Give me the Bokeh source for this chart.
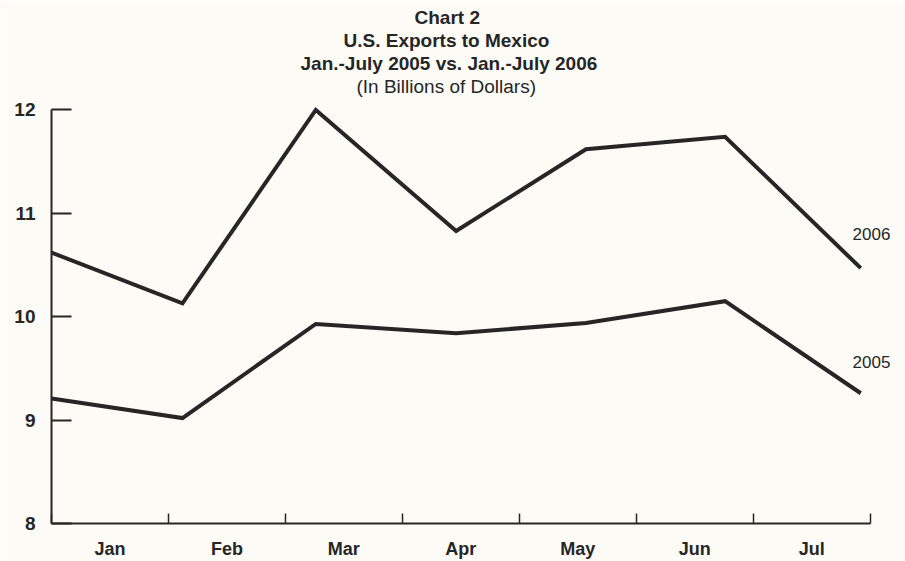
from bokeh.plotting import figure
from bokeh.models import Range1d, FixedTicker, Label, Title
from bokeh.embed import file_html
from bokeh.resources import INLINE

months = ["Jan", "Feb", "Mar", "Apr", "May", "Jun", "Jul"]
# where each month's point sits along the axis, in month-bin units
month_pos = [0.0, 1.12, 2.26, 3.46, 4.57, 5.76, 6.92]
exports_2006 = [10.62, 10.13, 12.0, 10.83, 11.62, 11.74, 10.47]
exports_2005 = [9.21, 9.02, 9.93, 9.84, 9.94, 10.15, 9.26]
y_ticks = [8, 9, 10, 11, 12]
series_names = ["2006", "2005"]
title_lines = ["Chart 2", "U.S. Exports to Mexico",
               "Jan.-July 2005 vs. Jan.-July 2006", "(In Billions of Dollars)"]

BG = "#fcfbf6"
INK = "#262626"
NARROW = "'Liberation Sans Narrow', 'Arial Narrow', 'Liberation Sans', sans-serif"
REG = "'Liberation Sans', Arial, sans-serif"

n = len(months)

p = figure(width=905, height=561, output_backend="svg", toolbar_location=None, title=None,
           x_range=Range1d(0, 7.2), y_range=Range1d(8, 12.13),
           min_border_left=51, min_border_right=12, min_border_top=96, min_border_bottom=38)
p.background_fill_color = BG
p.border_fill_color = BG
p.outline_line_color = None
p.grid.visible = False

p.line(month_pos, exports_2006, line_width=4, line_color=INK, line_join="miter")
p.line(month_pos, exports_2005, line_width=4, line_color=INK, line_join="miter")

# y axis
ya = p.yaxis[0]
ya.ticker = FixedTicker(ticks=y_ticks)
ya.bounds = (8, 12)
ya.major_tick_in = 20
ya.major_tick_out = 0
ya.minor_tick_line_color = None
ya.axis_line_width = 2
ya.axis_line_color = INK
ya.major_tick_line_width = 2
ya.major_tick_line_color = INK
ya.major_label_text_font = REG
ya.major_label_text_font_style = "bold"
ya.major_label_text_font_size = "19px"
ya.major_label_text_color = INK
ya.major_label_standoff = 16

# x axis: ticks at bin edges (minor), labels at bin centres (major)
xa = p.xaxis[0]
centers = [i + 0.5 for i in range(n)]
xa.ticker = FixedTicker(ticks=centers, minor_ticks=list(range(n + 1)))
xa.major_label_overrides = {c: m for c, m in zip(centers, months)}
xa.bounds = (0, 7)
xa.major_tick_line_color = None
xa.minor_tick_in = 10
xa.minor_tick_out = 0
xa.minor_tick_line_width = 1.5
xa.minor_tick_line_color = INK
xa.axis_line_width = 2
xa.axis_line_color = INK
xa.major_label_text_font = REG
xa.major_label_text_font_style = "bold"
xa.major_label_text_font_size = "18px"
xa.major_label_text_color = INK
xa.major_label_standoff = 9

# series labels
for name, vals, yoff in zip(series_names, [exports_2006, exports_2005], [0.33, 0.30]):
    p.add_layout(Label(x=6.85, y=vals[-1] + yoff, text=name, text_font=REG,
                       text_font_size="17px", text_color=INK, text_baseline="middle",
                       text_align="left"))

# title lines (first added sits closest to the plot); left offsets put them centred near x=446
title_offsets = [363, 292, 249, 305]
for i in reversed(range(len(title_lines))):
    p.add_layout(Title(text=title_lines[i], text_font=NARROW,
                       text_font_style="bold" if i < 3 else "normal",
                       text_font_size="19px", text_color=INK, align="left",
                       offset=title_offsets[i], standoff=0), "above")

open("out.html", "w").write(file_html(p, INLINE))
